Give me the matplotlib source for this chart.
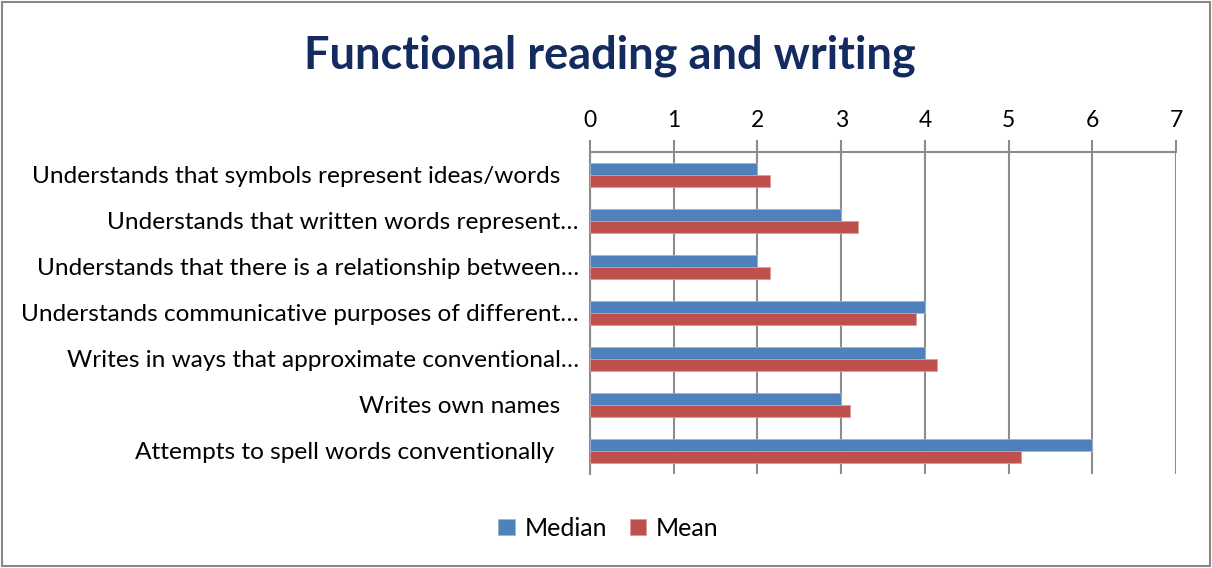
import numpy as np
import matplotlib.pyplot as plt
from matplotlib.patches import Rectangle

categories = [
    'Understands that symbols represent ideas/words   ',
    'Understands that written words represent…',
    'Understands that there is a relationship between…',
    'Understands communicative purposes of different…',
    'Writes in ways that approximate conventional…',
    'Writes own names   ',
    'Attempts to spell words conventionally    ',
]
median_vals = [2, 3, 2, 4, 4, 3, 6]
mean_vals = [2.15, 3.2, 2.15, 3.9, 4.15, 3.1, 5.15]
x_ticks = [0, 1, 2, 3, 4, 5, 6, 7]

blue = '#4F81BD'
red = '#C0504D'
grid_gray = '#8C8C8C'

plt.rcParams['font.family'] = ['Lato', 'DejaVu Sans']

fig = plt.figure(figsize=(12.12, 5.68), dpi=100)
fig.patches.append(Rectangle((0.002, 0.003), 0.996, 0.994, transform=fig.transFigure,
                             fill=False, edgecolor='#878787', linewidth=1.5))

ax = fig.add_axes([0.4868, 0.1655, 0.4835, 0.5669])

y = np.arange(len(categories))
h = 0.27
ax.barh(y - h / 2, median_vals, height=h, color=blue, edgecolor='#9DB6D8',
        linewidth=0.6, label='Median', zorder=3)
ax.barh(y + h / 2, mean_vals, height=h, color=red, edgecolor='#DB9A98',
        linewidth=0.6, label='Mean', zorder=3)

ax.set_ylim(len(categories) - 0.5, -0.5)
ax.set_xlim(0, 7)
ax.set_xticks(x_ticks)
ax.xaxis.tick_top()
ax.tick_params(axis='x', direction='out', length=9, width=1.5, color=grid_gray,
               labelsize=16.5, pad=6)
ax.set_yticks(y)
ax.set_yticklabels(categories, fontsize=17.6)
ax.tick_params(axis='y', length=0, pad=8)

ax.grid(axis='x', color=grid_gray, linewidth=1.5, zorder=0)
for s in ['right', 'bottom']:
    ax.spines[s].set_visible(False)
ax.spines['top'].set_color(grid_gray)
ax.spines['top'].set_linewidth(1.5)
ax.spines['left'].set_color(grid_gray)
ax.spines['left'].set_linewidth(1.5)

fig.text(0.5035, 0.902, 'Functional reading and writing', ha='center', va='center',
         fontsize=32.5, fontweight='bold', color='#132B5E')

fig.legend(loc='center', bbox_to_anchor=(0.502, 0.07), ncol=2, frameon=False,
           fontsize=18, handlelength=0.65, handleheight=0.65, handletextpad=0.4,
           columnspacing=0.9)

fig.savefig('out.png', dpi=100)
